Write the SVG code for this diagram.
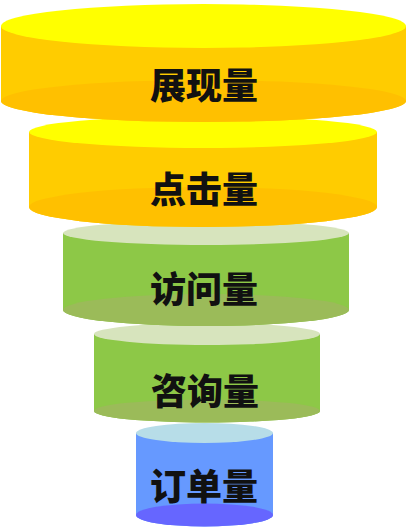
<svg xmlns="http://www.w3.org/2000/svg" width="407" height="528" viewBox="0 0 407 528">
<style>
.lbl{font-family:"Noto Sans CJK SC","Noto Sans",sans-serif;font-weight:900;font-size:36px;fill:#111;text-anchor:middle;dominant-baseline:central}
.ys{fill:#FFCC00}.yt{fill:#FFFF00}.yb{fill:#FFC000}
.gs{fill:#8DC847}.gt{fill:#D7E4BD}.gb{fill:#9BBB59}
.bs{fill:#6699FF}.bt{fill:#B7DDE8}.bb{fill:#6666FF}
</style>
<rect width="407" height="528" fill="#fff"/>
<g id="node-order">
<path class="bs" d="M136,433 L136,515 A68.5,11.5 0 0 0 273,515 L273,433 Z"/>
<ellipse class="bb" cx="204.5" cy="515" rx="68.5" ry="11.5"/>
<ellipse class="bt" cx="204.5" cy="433" rx="68.5" ry="10"/>
<text class="lbl" x="204" y="484">订单量</text>
</g>
<g id="node-consult">
<path class="gs" d="M94,334 L94,411 A113,11.5 0 0 0 320,411 L320,334 Z"/>
<ellipse class="gb" cx="207" cy="411" rx="113" ry="11.5"/>
<ellipse class="gt" cx="207" cy="334" rx="113" ry="11"/>
<text class="lbl" x="205" y="389">咨询量</text>
</g>
<g id="node-visit">
<path class="gs" d="M63,233 L63,310 A143,16 0 0 0 349,310 L349,233 Z"/>
<ellipse class="gb" cx="206" cy="310" rx="143" ry="16"/>
<ellipse class="gt" cx="206" cy="233" rx="143" ry="12"/>
<text class="lbl" x="204" y="287">访问量</text>
</g>
<g id="node-click">
<path class="ys" d="M29,132 L29,207 A174,20 0 0 0 377,207 L377,132 Z"/>
<ellipse class="yb" cx="203" cy="207" rx="174" ry="20"/>
<ellipse class="yt" cx="203" cy="132" rx="174" ry="16"/>
<text class="lbl" x="204" y="187">点击量</text>
</g>
<g id="node-show">
<path class="ys" d="M1,26 L1,101 A202.5,21 0 0 0 406,101 L406,26 Z"/>
<ellipse class="yb" cx="203.5" cy="101" rx="202.5" ry="21"/>
<ellipse class="yt" cx="203.5" cy="26" rx="202.5" ry="22"/>
<text class="lbl" x="204" y="83">展现量</text>
</g>
<g id="connectors"/>
</svg>
